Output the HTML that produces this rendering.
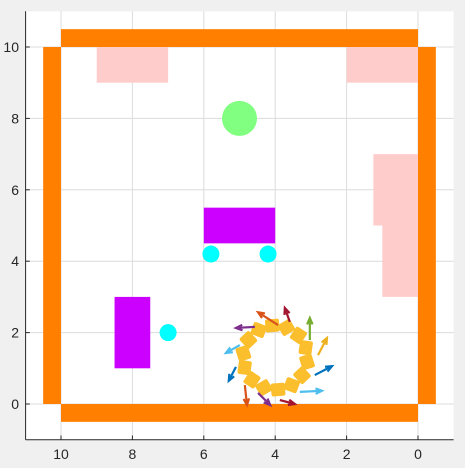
<!DOCTYPE html>
<html><head><meta charset="utf-8"><style>
html,body{margin:0;padding:0;background:#f0f0f0;}
svg{display:block;font-family:"Liberation Sans",sans-serif;}
</style></head><body>
<svg id="chart" width="465" height="468" viewBox="0 0 465 468" xmlns="http://www.w3.org/2000/svg">
<rect x="25.6" y="11.3" width="428" height="428.4" fill="#ffffff"/>
<g id="grid"></g>
<g id="shapes"></g>
<g id="ring"></g>
<g id="axes"></g>
</svg>
<script>
const xTicks=[10,8,6,4,2,0];
const yTicks=[0,2,4,6,8,10];
// walls: [x1,x2,y1,y2] in data units
const walls=[[10.5,10,0,10],[10,0,-0.5,0],[10,0,10,10.5],[0,-0.5,0,10]];
const pinkRects=[[9,7,9,10],[2,0,9,10],[1.25,0,5,7],[1,0,3,5]];
const magentaRects=[[6,4,4.5,5.5],[8.5,7.5,1,3]];
const cyanX=[5.8,4.2,7];const cyanY=[4.2,4.2,2];
const goalX=[5];const goalY=[8];
const ringCx=4,ringCy=1.3,ringR=0.9,ringN=14;
const arrowX=[4.57,3.92,3.59,3.03,2.80,2.89,3.31,3.87,4.48,4.85,5.10,4.99];
const arrowY=[2.16,2.21,2.30,1.79,1.37,0.81,0.34,0.11,0.31,0.53,1.04,1.65];
const arrowU=[0.53,0.56,0.14,0,-0.25,-0.48,-0.62,-0.42,-0.34,-0.06,0.2,0.39];
const arrowV=[-0.03,0.36,0.39,0.62,0.48,0.25,0.03,-0.11,-0.34,-0.56,-0.39,-0.22];
const arrowColors=["#7e2f8e","#d95319","#a2142f","#77ac30","#edb120","#0072bd","#4dbeee","#a2142f","#7e2f8e","#d95319","#0072bd","#4dbeee"];
const X=v=>418-(v)*35.7, Y=v=>404-(v)*35.7;
const NS="http://www.w3.org/2000/svg";
function mk(tag,attrs,parent){const e=document.createElementNS(NS,tag);for(const k in attrs)e.setAttribute(k,attrs[k]);parent.appendChild(e);return e;}
const grid=document.getElementById('grid'),shapes=document.getElementById('shapes'),ring=document.getElementById('ring'),axes=document.getElementById('axes');
xTicks.forEach(t=>{const l=mk('line',{x1:X(t),x2:X(t),y1:11.3,y2:439.7,stroke:'#dcdcdc','stroke-width':1},grid);

});
yTicks.forEach(t=>{const l=mk('line',{x1:25.6,x2:453.6,y1:Y(t),y2:Y(t),stroke:'#dcdcdc','stroke-width':1},grid);

});
function rectD(r,fill,name){const x1=Math.min(X(r[0]),X(r[1])),x2=Math.max(X(r[0]),X(r[1]));const y1=Math.min(Y(r[2]),Y(r[3])),y2=Math.max(Y(r[2]),Y(r[3]));
const e=mk('rect',{x:x1,y:y1,width:x2-x1,height:y2-y1,fill:fill},shapes);

}
pinkRects.forEach(r=>rectD(r,'#ffcccc','obstacle-zone'));
walls.forEach(r=>rectD(r,'#ff8000','wall'));
magentaRects.forEach(r=>rectD(r,'#cc00ff','robot-body'));
cyanX.forEach((v,i)=>{const c=mk('circle',{cx:X(v),cy:Y(cyanY[i]),r:8.5,fill:'#00ffff'},shapes);

});
goalX.forEach((v,i)=>{const c=mk('circle',{cx:X(v),cy:Y(goalY[i]),r:17.5,fill:'#80ff80'},shapes);

});
for(let i=0;i<ringN;i++){const a=(i+0.3)*2*Math.PI/ringN;const cx=X(ringCx+ringR*Math.cos(a)),cy=Y(ringCy+ringR*Math.sin(a));
const s=mk('rect',{x:cx-7,y:cy-6.5,width:14,height:13,rx:2,fill:'#fbbf2e',transform:`rotate(${-a*180/Math.PI+80} ${cx} ${cy})`},ring);

}
arrowX.forEach((v,i)=>{const x1=X(v),y1=Y(arrowY[i]),x2=X(v+arrowU[i]),y2=Y(arrowY[i]+arrowV[i]);
const g=mk('g',{stroke:arrowColors[i],fill:'none','stroke-width':2.2},ring);


mk('line',{x1,y1,x2,y2},g);
const ang=Math.atan2(y2-y1,x2-x1),h=7;
mk('polyline',{points:`${x2-h*Math.cos(ang-0.4)},${y2-h*Math.sin(ang-0.4)} ${x2},${y2} ${x2-h*Math.cos(ang+0.4)},${y2-h*Math.sin(ang+0.4)}`},g);});
const xa=mk('line',{x1:25.6,x2:453.6,y1:439.7,y2:439.7,stroke:'#262626','stroke-width':1},axes);


const ya=mk('line',{x1:25.6,x2:25.6,y1:11.3,y2:439.7,stroke:'#262626','stroke-width':1},axes);


xTicks.forEach(t=>{mk('line',{x1:X(t),x2:X(t),y1:439.7,y2:435.5,stroke:'#262626'},axes);
const tx=mk('text',{x:X(t),y:459,'text-anchor':'middle','font-size':14,fill:'#262626'},axes);tx.textContent=t;

});
yTicks.forEach(t=>{mk('line',{x1:25.6,x2:29.8,y1:Y(t),y2:Y(t),stroke:'#262626'},axes);
const tx=mk('text',{x:19,y:Y(t)+5,'text-anchor':'end','font-size':14,fill:'#262626'},axes);tx.textContent=t;

});
</script>
</body></html>
